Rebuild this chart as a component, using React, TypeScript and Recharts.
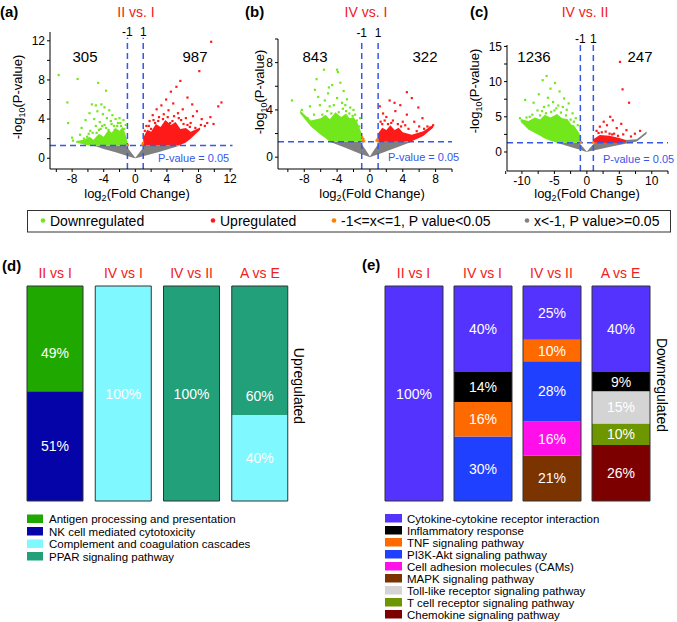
import React from "react";
import {
  ComposedChart,
  Scatter,
  Area,
  XAxis,
  YAxis,
  ReferenceLine,
  BarChart,
  Bar,
  LabelList,
} from "recharts";

const FONT = '"Liberation Sans", Arial, Helvetica, sans-serif';
const RED = "#f02020";
const BLUE = "#3657e8";
const GREEN_PT = "#72e81c";
const RED_PT = "#ff1a1a";
const GRAY_PT = "#808080";
const ORANGE_PT = "#ff7f00";

// ---- volcano (a) II vs. I : [x, low, high] bands and [x, y] points
const aGray = [[-5.3, 1.3, 1.3], [-4, 0.95, 1.3], [-2.5, 0.6, 1.3], [-1.2, 0.28, 1.3], [-0.4, 0.08, 0.45], [0, 0, 0.05], [0.4, 0.08, 0.45], [1.2, 0.25, 1.3], [3, 0.65, 1.3], [5.7, 1.3, 1.3]];
const aGreenCore = [[-7.5, 1.6, 1.75], [-6.5, 1.4, 1.9], [-5.8, 1.3, 2.2], [-5.3, 1.3, 1.9], [-4.6, 1.3, 2.5], [-4, 1.3, 2.2], [-3.4, 1.3, 2.9], [-3, 1.3, 2.6], [-2.5, 1.3, 3.1], [-2, 1.3, 2.8], [-1.6, 1.3, 3.2], [-1.3, 1.3, 2.6], [-1.0, 1.3, 1.7]];
const aRedCore = [[1.0, 1.3, 2.1], [1.5, 1.3, 2.9], [2, 1.3, 2.7], [2.6, 1.3, 3.5], [3.2, 1.3, 3.2], [3.8, 1.3, 3.9], [4.5, 1.3, 3.4], [5.1, 1.3, 3.7], [5.7, 1.35, 3.0], [6.4, 1.6, 3.1], [7, 2.0, 2.7], [8.2, 2.9, 3.15]];
const aDown = [[-9.7, 8.5], [-7.3, 8.1], [-4.7, 7.7], [-3.7, 6.9], [-8.6, 5.7], [-8.5, 3.6], [-5.5, 5.5], [-5.0, 5.4], [-4.3, 5.5], [-3.9, 5.2], [-4.8, 4.8], [-3.3, 4.9], [-5.8, 4.6], [-4.1, 4.5], [-2.9, 4.4], [-2.5, 4.0], [-3.6, 4.1], [-5.2, 4.0], [-6.3, 3.9], [-4.5, 3.7], [-3.1, 3.8], [-2.2, 3.6], [-1.8, 3.3], [-2.7, 3.3], [-3.9, 3.4], [-5.0, 3.3], [-6.8, 3.1], [-4.4, 3.0], [-3.4, 2.9], [-1.4, 3.0], [-5.7, 2.8], [-4.9, 2.6], [-7.0, 2.4], [-6.1, 2.2], [-1.6, 2.9], [-8.0, 2.1], [-6.5, 2.0], [-7.9, 1.8], [-5.9, 2.5], [-4.6, 2.9], [-3.7, 3.1], [-2.3, 3.3], [-1.9, 3.6], [-1.2, 3.4], [-3.0, 3.5], [-4.2, 3.3], [-5.4, 2.6], [-2.6, 2.9], [-1.5, 3.9], [-2.0, 4.1]];
const aUp = [[9.6, 11.9], [8.1, 8.9], [5.7, 7.9], [5.2, 7.3], [4.5, 6.8], [10.9, 5.7], [10.5, 5.3], [9.5, 4.2], [6.6, 6.2], [3.9, 6.0], [7.2, 5.5], [4.8, 5.6], [3.3, 5.4], [6.0, 5.0], [2.7, 5.0], [4.2, 4.9], [5.4, 4.6], [7.8, 4.8], [3.6, 4.5], [2.2, 4.4], [8.4, 4.0], [6.4, 4.1], [4.9, 4.3], [3.0, 4.2], [1.8, 3.8], [5.8, 3.9], [7.0, 3.6], [2.5, 3.6], [1.4, 3.3], [6.6, 3.4], [8.8, 3.3], [7.6, 3.1], [9.9, 3.5], [8.3, 3.4], [7.3, 4.3], [9.1, 3.6], [1.2, 2.8], [1.7, 3.3], [2.3, 3.9], [2.9, 3.8], [3.5, 4.0], [4.1, 4.2], [4.7, 3.8], [5.5, 4.1], [6.1, 3.5], [6.9, 3.2], [2.0, 3.0], [4.4, 3.6]];
const aMid = [[-0.95, 1.35], [0.9, 1.4], [0.97, 1.55]];

// ---- volcano (b) IV vs. I
const bGray = [[-4.9, 1.3, 1.3], [-3, 0.8, 1.3], [-1.2, 0.3, 1.3], [-0.4, 0.1, 0.5], [0, 0, 0.05], [0.4, 0.1, 0.5], [1.2, 0.3, 1.3], [3, 0.75, 1.3], [5.1, 1.3, 1.3]];
const bGreenCore = [[-8.5, 3.7, 3.95], [-7.2, 2.6, 3.1], [-6, 1.9, 3.3], [-5.4, 1.6, 3.6], [-4.9, 1.3, 3.2], [-4.2, 1.3, 3.8], [-3.5, 1.3, 3.4], [-2.9, 1.3, 3.7], [-2.5, 1.3, 3.3], [-2, 1.3, 3.4], [-1.5, 1.3, 2.9], [-1.0, 1.3, 2.0]];
const bRedCore = [[1.0, 1.3, 2.0], [1.5, 1.3, 2.5], [2, 1.3, 2.3], [2.5, 1.3, 2.7], [3, 1.3, 2.3], [3.5, 1.3, 2.5], [4, 1.3, 2.1], [5.1, 1.35, 1.9], [6.5, 1.8, 2.2], [7.7, 2.5, 2.75]];
const bDown = [[-9.5, 4.8], [-8.3, 4.0], [-7.3, 4.3], [-6.7, 5.7], [-6.5, 6.6], [-5.6, 7.4], [-4.0, 7.4], [-3.9, 7.2], [-5.5, 4.8], [-4.0, 5.0], [-4.6, 6.1], [-3.6, 6.3], [-3.2, 5.6], [-5.1, 5.4], [-4.4, 4.4], [-3.4, 4.6], [-2.8, 4.9], [-2.4, 4.2], [-6.1, 4.4], [-5.2, 3.9], [-3.8, 3.8], [-2.9, 3.9], [-2.1, 3.5], [-6.8, 3.6], [-7.6, 3.3], [-5.8, 3.6], [-4.7, 3.7], [-1.6, 3.1], [-1.3, 2.6], [-3.3, 4.1], [-2.0, 4.0], [-1.8, 3.6], [-4.9, 4.3], [-3.0, 4.4], [-2.5, 3.7], [-6.3, 5.1], [-5.0, 5.9], [-1.2, 3.3]];
const bUp = [[4.5, 5.5], [5.1, 5.0], [2.4, 4.8], [3.7, 4.4], [5.9, 4.2], [4.5, 3.6], [7.7, 2.7], [7.0, 2.6], [1.6, 3.7], [2.8, 3.1], [1.2, 4.3], [3.1, 3.9], [6.4, 3.3], [5.4, 3.0], [2.0, 3.4], [4.0, 3.0], [6.0, 2.6], [3.4, 2.8], [1.5, 2.8], [4.7, 2.4], [2.6, 2.9], [6.6, 2.4], [5.7, 2.2], [7.3, 2.5], [3.0, 4.6], [1.8, 3.1], [2.2, 2.8], [3.8, 2.6], [1.3, 3.0], [4.3, 2.7]];
const bMid = [[-0.9, 1.4], [-0.8, 1.55], [-0.7, 1.35], [-0.95, 1.7], [0.8, 1.4], [0.9, 1.5], [0.95, 1.35]];

// ---- volcano (c) IV vs. II
const cGray = [[-4.6, 1.3, 1.3], [-3, 0.85, 1.3], [-1.2, 0.35, 1.3], [-0.4, 0.1, 0.5], [0, 0, 0.05], [0.4, 0.1, 0.5], [1.2, 0.25, 1.3], [4, 0.8, 1.6], [7.7, 1.5, 1.8], [9.2, 2.6, 2.9]];
const cGreenCore = [[-10.2, 4.3, 4.7], [-9, 3.2, 4.4], [-8, 2.7, 4.9], [-7.2, 2.3, 4.6], [-6.5, 1.9, 5.3], [-5.6, 1.6, 4.9], [-4.6, 1.3, 5.4], [-3.8, 1.3, 4.8], [-3, 1.3, 4.7], [-2.4, 1.3, 3.9], [-2, 1.3, 3.8], [-1.1, 1.3, 2.6], [-1.0, 1.3, 1.8]];
const cRedCore = [[1.0, 1.3, 1.8], [2, 1.3, 2.4], [3.5, 1.3, 2.3], [5, 1.3, 2.0], [6, 1.4, 1.7]];
const cDown = [[-10.3, 4.8], [-9.5, 7.4], [-6.2, 10.8], [-6.8, 10.2], [-4.9, 9.8], [-5.6, 9.0], [-7.4, 8.2], [-4.2, 8.6], [-6.0, 7.7], [-3.5, 7.6], [-8.2, 7.0], [-5.2, 7.1], [-2.8, 6.9], [-4.4, 6.6], [-6.6, 6.4], [-3.1, 6.0], [-7.6, 5.9], [-5.5, 5.7], [-2.2, 5.5], [-4.0, 5.6], [-8.8, 5.0], [-6.3, 5.5], [-1.7, 4.8], [-3.2, 5.2], [-5.0, 5.9], [-7.2, 5.2], [-2.5, 4.6], [-9.3, 4.9], [-1.4, 3.8], [-8.4, 5.3], [-3.7, 6.4], [-6.9, 5.8], [-4.7, 6.2], [-2.0, 4.3], [-5.9, 6.6]];
const cUp = [[5.1, 12.8], [5.5, 8.9], [6.5, 7.0], [4.0, 4.5], [3.1, 3.8], [2.0, 3.6], [4.6, 3.4], [6.1, 3.1], [2.6, 4.3], [3.6, 5.0], [1.5, 3.0], [5.3, 4.0], [2.9, 2.9], [4.2, 2.6], [1.8, 2.7], [3.5, 2.6], [5.6, 2.5], [2.3, 2.8], [4.8, 2.3], [6.8, 2.2], [3.9, 2.5], [8.2, 3.0], [7.4, 2.6]];
const cMid = [[-0.9, 1.4], [0.95, 1.35]];

// ---- pathway bars
const barCats = ["II vs I", "IV vs I", "IV vs II", "A vs E"];

const upAntigen = [49, 0, 0, 0];
const upNK = [51, 0, 0, 0];
const upComplement = [0, 100, 0, 40];
const upPPAR = [0, 0, 100, 60];

const dnCytokine = [100, 40, 25, 40];
const dnInflammatory = [0, 14, 0, 9];
const dnTNF = [0, 16, 10, 0];
const dnPI3K = [0, 30, 28, 0];
const dnCAMs = [0, 0, 16, 0];
const dnMAPK = [0, 0, 21, 0];
const dnToll = [0, 0, 0, 15];
const dnTcell = [0, 0, 0, 10];
const dnChemokine = [0, 0, 0, 26];

type Series = { key: string; name: string; color: string; values: number[] };

const upLegend: Series[] = [
  { key: "antigen", name: "Antigen processing and presentation", color: "#1fa800", values: upAntigen },
  { key: "nk", name: "NK cell mediated cytotoxicity", color: "#0404a8", values: upNK },
  { key: "complement", name: "Complement and coagulation cascades", color: "#80f8ff", values: upComplement },
  { key: "ppar", name: "PPAR signaling pathway", color: "#21a07a", values: upPPAR },
];
// bottom -> top
const upStack = [upLegend[1], upLegend[2], upLegend[3], upLegend[0]];

const dnLegend: Series[] = [
  { key: "cytokine", name: "Cytokine-cytokine receptor interaction", color: "#5533ff", values: dnCytokine },
  { key: "inflam", name: "Inflammatory response", color: "#000000", values: dnInflammatory },
  { key: "tnf", name: "TNF signaling pathway", color: "#ff6a00", values: dnTNF },
  { key: "pi3k", name: "PI3K-Akt signaling pathway", color: "#2040ff", values: dnPI3K },
  { key: "cams", name: "Cell adhesion molecules (CAMs)", color: "#ff10ea", values: dnCAMs },
  { key: "mapk", name: "MAPK signaling pathway", color: "#7b3300", values: dnMAPK },
  { key: "toll", name: "Toll-like receptor signaling pathway", color: "#d4d4d4", values: dnToll },
  { key: "tcell", name: "T cell receptor signaling pathway", color: "#6e9600", values: dnTcell },
  { key: "chemokine", name: "Chemokine signaling pathway", color: "#7d0000", values: dnChemokine },
];
const dnStack = [...dnLegend].reverse();

const buildRows = (series: Series[]) =>
  barCats.map((name, i) => {
    const row: Record<string, any> = { name };
    let total = 0;
    series.forEach((s) => {
      row[s.key] = s.values[i];
      total += s.values[i];
    });
    row.total = total;
    return row;
  });

const upRows = buildRows(upLegend);
const dnRows = buildRows(dnLegend);

// label nudges (series:value) so the percentages sit where the original has them
const labelShift: Record<string, number> = { "antigen:49": 14, "ppar:60": 45 };

const toPts = (arr: number[][]) => arr.map(([x, y]) => ({ x, y }));
const toBand = (arr: number[][]) => arr.map(([x, lo, hi]) => ({ x, lo, hi }));

const dotShape = (color: string) => (p: any) => (
  <rect x={p.cx - 1.1} y={p.cy - 1.1} width={2.2} height={2.2} fill={color} />
);

const fmtEvery = (major: number) => (v: number) =>
  Math.abs(v / major - Math.round(v / major)) < 1e-6 ? String(v) : "";

type VolcanoProps = {
  box: [number, number, number, number];
  margin: { top: number; right: number; left: number; bottom: number };
  yw: number;
  xh: number;
  xDomain: [number, number];
  yDomain: [number, number];
  xTicks: number[];
  yTicks: number[];
  xMajor: number;
  yMajor: number;
  vTop: number;
  gray: number[][];
  greenCore: number[][];
  redCore: number[][];
  down: number[][];
  up: number[][];
  mid: number[][];
};

const Volcano = (p: VolcanoProps) => {
  const axisStyle = { fontSize: 12, fill: "#000" };
  const vLine = (x: number, label: string) => (
    <ReferenceLine
      segment={[{ x, y: p.yDomain[0] }, { x, y: p.vTop }]}
      stroke={BLUE}
      strokeWidth={1.5}
      strokeDasharray="6 4"
      label={{ value: label, position: "top", offset: 2, fontSize: 12, fill: "#000" }}
    />
  );
  return (
    <div style={{ position: "absolute", left: p.box[0], top: p.box[1] }}>
      <ComposedChart width={p.box[2]} height={p.box[3]} margin={p.margin}>
        <XAxis
          type="number"
          dataKey="x"
          domain={p.xDomain}
          ticks={p.xTicks}
          interval={0}
          allowDataOverflow
          tickFormatter={fmtEvery(p.xMajor)}
          tickSize={3}
          tickMargin={2}
          height={p.xh}
          stroke="#000"
          tick={axisStyle}
        />
        <YAxis
          type="number"
          dataKey="y"
          domain={p.yDomain}
          ticks={p.yTicks}
          interval={0}
          allowDataOverflow
          tickFormatter={fmtEvery(p.yMajor)}
          tickSize={3}
          tickMargin={2}
          width={p.yw}
          stroke="#000"
          tick={axisStyle}
        />
        <Area
          data={toBand(p.gray)}
          dataKey={(d: any) => [d.lo, d.hi]}
          type="linear"
          stroke="none"
          fill={GRAY_PT}
          fillOpacity={1}
          isAnimationActive={false}
        />
        <Area
          data={toBand(p.greenCore)}
          dataKey={(d: any) => [d.lo, d.hi]}
          type="linear"
          stroke="none"
          fill={GREEN_PT}
          fillOpacity={1}
          isAnimationActive={false}
        />
        <Area
          data={toBand(p.redCore)}
          dataKey={(d: any) => [d.lo, d.hi]}
          type="linear"
          stroke="none"
          fill={RED_PT}
          fillOpacity={1}
          isAnimationActive={false}
        />
        <Scatter data={toPts(p.down)} dataKey="y" shape={dotShape(GREEN_PT)} isAnimationActive={false} />
        <Scatter data={toPts(p.up)} dataKey="y" shape={dotShape(RED_PT)} isAnimationActive={false} />
        <Scatter data={toPts(p.mid)} dataKey="y" shape={dotShape(ORANGE_PT)} isAnimationActive={false} />
        <ReferenceLine y={1.3} stroke={BLUE} strokeWidth={1.5} strokeDasharray="6 4" />
        {vLine(-1, "-1")}
        {vLine(1, "1")}
      </ComposedChart>
    </div>
  );
};

const segLabel = (key: string) => (props: any) => {
  const v = props.value;
  if (!v) return null;
  const shift = labelShift[key + ":" + v] || 0;
  return (
    <text
      x={Number(props.x) + Number(props.width) / 2}
      y={Number(props.y) + Number(props.height) / 2 + shift}
      textAnchor="middle"
      dominantBaseline="central"
      fill="#ffffff"
      fontSize={14}
    >
      {v}%
    </text>
  );
};

const PathwayBars = (p: {
  box: [number, number, number, number];
  margin: { top: number; right: number; left: number; bottom: number };
  rows: any[];
  stack: Series[];
  barSize: number;
}) => (
  <div style={{ position: "absolute", left: p.box[0], top: p.box[1] }}>
    <BarChart width={p.box[2]} height={p.box[3]} data={p.rows} margin={p.margin} barSize={p.barSize}>
      <XAxis
        xAxisId="t"
        dataKey="name"
        orientation="top"
        axisLine={false}
        tickLine={false}
        interval={0}
        height={31}
        tick={{ fill: RED, fontSize: 14 }}
      />
      <XAxis xAxisId="o" dataKey="name" hide />
      <YAxis domain={[0, 100]} hide />
      {p.stack.map((s) => (
        <Bar key={s.key} xAxisId="t" dataKey={s.key} stackId="s" fill={s.color} isAnimationActive={false}>
          <LabelList dataKey={s.key} content={segLabel(s.key)} />
        </Bar>
      ))}
      <Bar xAxisId="o" dataKey="total" fill="none" stroke="#333" strokeWidth={1} isAnimationActive={false} />
    </BarChart>
  </div>
);

const Log = ({ x, y, transform }: { x: number; y: number; transform?: string }) => (
  <text x={x} y={y} textAnchor="middle" fontSize={13} transform={transform}>
    -log<tspan fontSize={9} dy={3}>10</tspan>
    <tspan dy={-3}>(P-value)</tspan>
  </text>
);

const FoldLabel = ({ x }: { x: number }) => (
  <text x={x} y={198} textAnchor="middle" fontSize={13}>
    log<tspan fontSize={9} dy={3}>2</tspan>
    <tspan dy={-3}>(Fold Change)</tspan>
  </text>
);

const topLegend = [
  { label: "Downregulated", color: GREEN_PT, x: 43 },
  { label: "Upregulated", color: RED_PT, x: 213 },
  { label: "-1<=x<=1, P value<0.05", color: ORANGE_PT, x: 334 },
  { label: "x<-1, P value>=0.05", color: GRAY_PT, x: 527 },
];

export default function App() {
  return (
    <div
      style={{
        position: "absolute",
        left: 0,
        top: 0,
        width: 677,
        height: 622,
        background: "#fff",
        fontFamily: FONT,
        overflow: "hidden",
      }}
    >
      <Volcano
        box={[0, 0, 240, 210]}
        margin={{ top: 32, right: 7.5, left: 10, bottom: 0 }}
        yw={40}
        xh={41}
        xDomain={[-10.8, 12.3]}
        yDomain={[-1.1, 12.9]}
        xTicks={[-10, -8, -6, -4, -2, 0, 2, 4, 6, 8, 10, 12]}
        yTicks={[0, 2, 4, 6, 8, 10, 12]}
        xMajor={4}
        yMajor={4}
        vTop={12.3}
        gray={aGray}
        greenCore={aGreenCore}
        redCore={aRedCore}
        down={aDown}
        up={aUp}
        mid={aMid}
      />
      <Volcano
        box={[240, 0, 220, 210]}
        margin={{ top: 39, right: 8, left: 8, bottom: 0 }}
        yw={30}
        xh={41}
        xDomain={[-11.2, 10]}
        yDomain={[-1, 10]}
        xTicks={[-10, -8, -6, -4, -2, 0, 2, 4, 6, 8, 10]}
        yTicks={[0, 2, 4, 6, 8, 10]}
        xMajor={4}
        yMajor={4}
        vTop={10}
        gray={bGray}
        greenCore={bGreenCore}
        redCore={bRedCore}
        down={bDown}
        up={bUp}
        mid={bMid}
      />
      <Volcano
        box={[460, 0, 217, 210]}
        margin={{ top: 45, right: 9, left: 17, bottom: 0 }}
        yw={30}
        xh={39}
        xDomain={[-12.3, 12.5]}
        yDomain={[-2.7, 15.2]}
        xTicks={[-12.5, -10, -7.5, -5, -2.5, 0, 2.5, 5, 7.5, 10, 12.5]}
        yTicks={[0, 2.5, 5, 7.5, 10, 12.5, 15]}
        xMajor={5}
        yMajor={5}
        vTop={15.2}
        gray={cGray}
        greenCore={cGreenCore}
        redCore={cRedCore}
        down={cDown}
        up={cUp}
        mid={cMid}
      />

      <PathwayBars
        box={[0, 255, 300, 255]}
        margin={{ top: 0, right: 6, left: 21, bottom: 9 }}
        rows={upRows}
        stack={upStack}
        barSize={56}
      />
      <PathwayBars
        box={[330, 255, 347, 255]}
        margin={{ top: 0, right: 22, left: 49, bottom: 9 }}
        rows={dnRows}
        stack={dnStack}
        barSize={58}
      />

      <svg
        width={677}
        height={622}
        style={{ position: "absolute", left: 0, top: 0, pointerEvents: "none", fontFamily: FONT }}
      >
        {/* panel letters and titles */}
        <text x={0} y={17} fontSize={15} fontWeight="bold">(a)</text>
        <text x={136} y={17} fontSize={14} fill={RED} textAnchor="middle">II vs. I</text>
        <text x={245} y={17} fontSize={15} fontWeight="bold">(b)</text>
        <text x={366} y={17} fontSize={14} fill={RED} textAnchor="middle">IV vs. I</text>
        <text x={470} y={17} fontSize={15} fontWeight="bold">(c)</text>
        <text x={585} y={17} fontSize={14} fill={RED} textAnchor="middle">IV vs. II</text>

        {/* counts */}
        <text x={85} y={62} fontSize={15} textAnchor="middle">305</text>
        <text x={195} y={62} fontSize={15} textAnchor="middle">987</text>
        <text x={315} y={62} fontSize={15} textAnchor="middle">843</text>
        <text x={425} y={62} fontSize={15} textAnchor="middle">322</text>
        <text x={534} y={62} fontSize={15} textAnchor="middle">1236</text>
        <text x={640} y={62} fontSize={15} textAnchor="middle">247</text>

        {/* threshold notes */}
        <text x={158} y={162} fontSize={11} fill={BLUE}>P-value = 0.05</text>
        <text x={388} y={161} fontSize={11} fill={BLUE}>P-value = 0.05</text>
        <text x={603} y={163} fontSize={11} fill={BLUE}>P-value = 0.05</text>

        {/* axis titles */}
        <Log x={22} y={97} transform="rotate(-90 22 97)" />
        <Log x={264} y={92} transform="rotate(-90 264 92)" />
        <Log x={479} y={91} transform="rotate(-90 479 91)" />
        <FoldLabel x={137} />
        <FoldLabel x={372} />
        <FoldLabel x={587} />

        {/* shared legend of volcano plots */}
        <rect x={27.5} y={210.5} width={643} height={21.5} fill="none" stroke="#333" strokeWidth={1} />
        {topLegend.map((t) => (
          <g key={t.label}>
            <circle cx={t.x} cy={220.5} r={2.3} fill={t.color} />
            <text x={t.x + 7} y={225.5} fontSize={14}>{t.label}</text>
          </g>
        ))}

        {/* bar panels */}
        <text x={2} y={271} fontSize={15} fontWeight="bold">(d)</text>
        <text x={362} y={270} fontSize={15} fontWeight="bold">(e)</text>
        <text x={299} y={386} fontSize={14} textAnchor="middle" dominantBaseline="central" transform="rotate(90 299 386)">
          Upregulated
        </text>
        <text x={662} y={385} fontSize={14} textAnchor="middle" dominantBaseline="central" transform="rotate(90 662 385)">
          Downregulated
        </text>

        {upLegend.map((s, i) => (
          <g key={s.key}>
            <rect x={27} y={514.5 + i * 12.5} width={16} height={8.5} fill={s.color} />
            <text x={49} y={523 + i * 12.5} fontSize={11.5}>{s.name}</text>
          </g>
        ))}
        {dnLegend.map((s, i) => (
          <g key={s.key}>
            <rect x={385} y={514 + i * 12} width={17} height={8.5} fill={s.color} />
            <text x={407} y={522.5 + i * 12} fontSize={11.5}>{s.name}</text>
          </g>
        ))}
      </svg>
    </div>
  );
}
